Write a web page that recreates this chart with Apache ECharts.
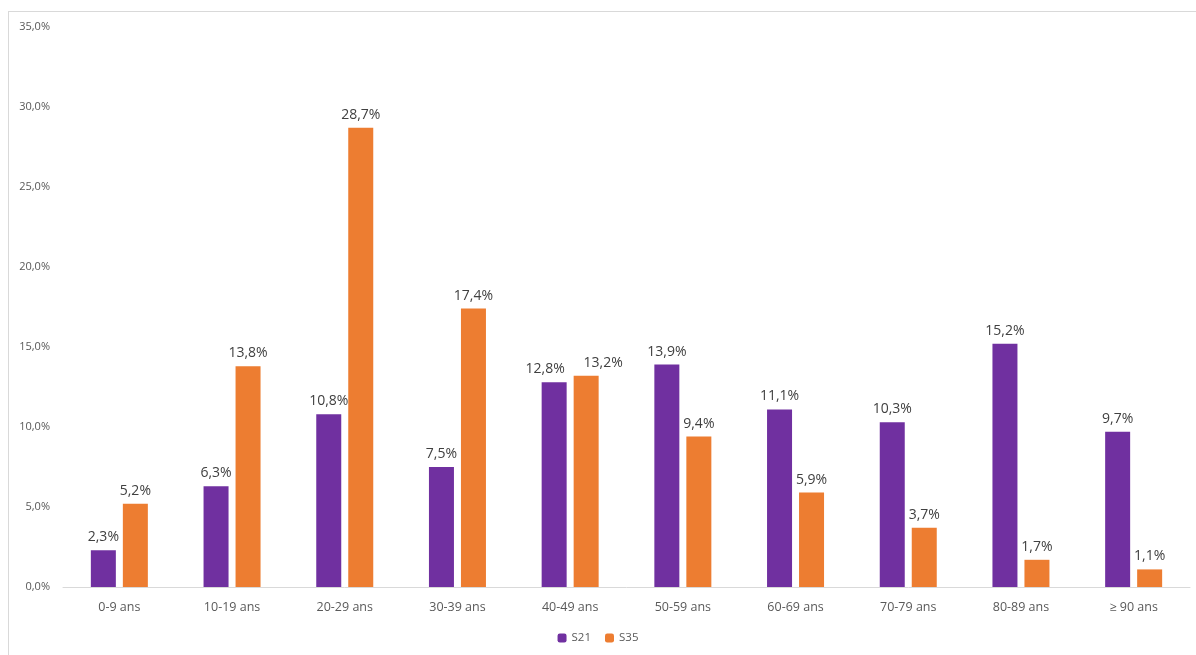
<!DOCTYPE html>
<html><head><meta charset="utf-8">
<script src="https://cdn.jsdelivr.net/npm/echarts@6/dist/echarts.min.js"></script>
<style>
html,body{margin:0;padding:0;background:#fff;}
#frame{position:absolute;left:8px;top:11px;width:1200px;height:660px;border:1px solid #d9d9d9;box-sizing:border-box;}
#main{position:absolute;left:0;top:0;width:1196px;height:655px;}
</style></head>
<body>
<div id="frame"></div>
<div id="main"></div>
<script>
var categories = ['0-9 ans','10-19 ans','20-29 ans','30-39 ans','40-49 ans','50-59 ans','60-69 ans','70-79 ans','80-89 ans','≥ 90 ans'];
var s21 = [2.3, 6.3, 10.8, 7.5, 12.8, 13.9, 11.1, 10.3, 15.2, 9.7];
var s35 = [5.2, 13.8, 28.7, 17.4, 13.2, 9.4, 5.9, 3.7, 1.7, 1.1];
var fmt = function(v){ return v.toFixed(1).replace('.', ',') + '%'; };
var font = '"Open Sans", "Liberation Sans", sans-serif';
var chart = echarts.init(document.getElementById('main'));
function labelCfg(){ return {show:true, position:'top', distance:6, color:'#404040', fontSize:14, fontFamily:font,
  formatter:function(p){return fmt(p.value);}}; }
// nudge the two crowded labels of the 40-49 group apart, as in the reference
function withNudge(arr, idx, dx){
  return arr.map(function(v,i){
    return i===idx ? {value:v, label:{offset:[dx,0]}} : v;
  });
}
chart.setOption({
  animation:false,
  grid:{left:63, right:6, top:27, bottom:68},
  legend:{bottom:6, left:'center', itemWidth:9, itemHeight:9, itemGap:14,
    textStyle:{color:'#595959', fontSize:11.5, fontFamily:font}, data:['S21','S35']},
  xAxis:{type:'category', data:categories,
    axisLine:{lineStyle:{color:'#d9d9d9'}}, axisTick:{show:false},
    axisLabel:{color:'#595959', fontSize:12.5, fontFamily:font, margin:14}},
  yAxis:{type:'value', min:0, max:35, interval:5,
    splitLine:{show:false}, axisLine:{show:false}, axisTick:{show:false},
    axisLabel:{color:'#595959', fontSize:11, fontFamily:font, margin:13, formatter:function(v){return fmt(v);}}},
  series:[
    {name:'S21', type:'bar', data:withNudge(s21, 4, -9), barWidth:25, barGap:'28%', itemStyle:{color:'#7030A0'}, label:labelCfg()},
    {name:'S35', type:'bar', data:withNudge(s35, 4, 17), barWidth:25, itemStyle:{color:'#ED7D31'}, label:labelCfg()}
  ]
});
</script>
</body></html>
